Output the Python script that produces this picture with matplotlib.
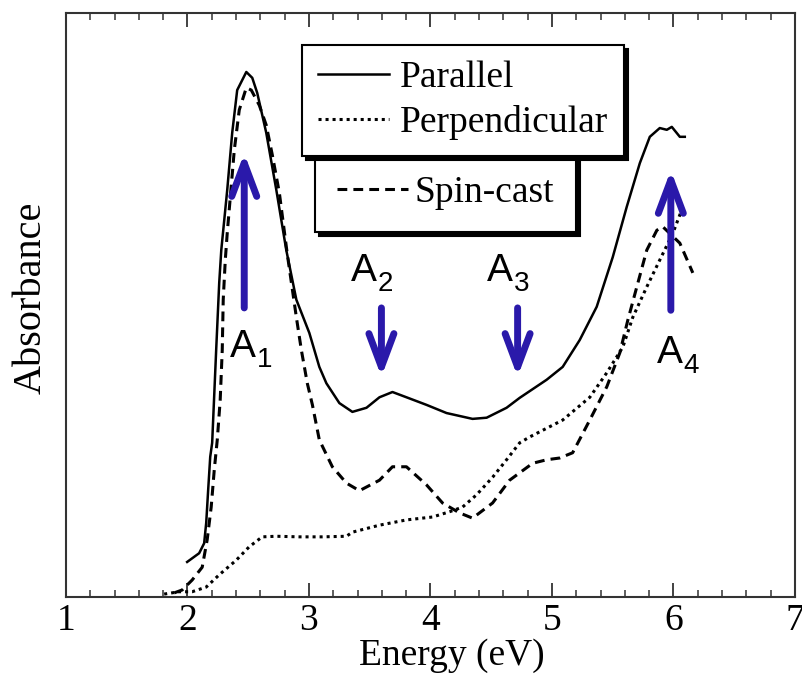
import matplotlib.pyplot as plt
import matplotlib.ticker as ticker

#%% Data (absorbance in arbitrary units)
par_e = [1.997, 2.096, 2.137, 2.154, 2.170, 2.187, 2.203, 2.236, 2.261, 2.278,
         2.327, 2.368, 2.409, 2.484, 2.533, 2.574, 2.648, 2.731, 2.813, 2.896,
         3.003, 3.085, 3.143, 3.250, 3.357, 3.473, 3.580, 3.687, 3.802, 3.967,
         4.132, 4.346, 4.462, 4.626, 4.734, 4.956, 5.088, 5.228, 5.368, 5.500,
         5.615, 5.723, 5.805, 5.887, 5.945, 5.986, 6.052, 6.093]
par_a = [0.060, 0.075, 0.092, 0.127, 0.183, 0.240, 0.264, 0.423, 0.538, 0.594,
         0.697, 0.795, 0.868, 0.899, 0.889, 0.863, 0.795, 0.697, 0.594, 0.509,
         0.452, 0.394, 0.366, 0.332, 0.317, 0.324, 0.342, 0.351, 0.342, 0.329,
         0.315, 0.305, 0.307, 0.324, 0.341, 0.372, 0.394, 0.440, 0.497, 0.582,
         0.668, 0.743, 0.788, 0.803, 0.800, 0.805, 0.788, 0.788]

perp_e = [1.808, 1.931, 2.038, 2.154, 2.261, 2.401, 2.508, 2.615, 2.731, 2.920,
          3.110, 3.308, 3.357, 3.580, 3.802, 4.017, 4.157, 4.264, 4.379, 4.511,
          4.626, 4.734, 4.816, 5.088, 5.311, 5.451, 5.583, 5.665, 5.780, 5.887,
          5.995, 6.077]
perp_a = [0.005, 0.009, 0.009, 0.017, 0.038, 0.063, 0.086, 0.103, 0.104, 0.103,
          0.103, 0.104, 0.111, 0.123, 0.132, 0.137, 0.146, 0.154, 0.175, 0.205,
          0.235, 0.264, 0.274, 0.303, 0.342, 0.384, 0.428, 0.479, 0.531, 0.577,
          0.623, 0.668]

spin_e = [1.890, 1.956, 2.038, 2.121, 2.162, 2.195, 2.220, 2.245, 2.269, 2.286,
          2.294, 2.311, 2.327, 2.385, 2.426, 2.484, 2.525, 2.591, 2.648, 2.698,
          2.756, 2.822, 2.896, 2.937, 2.986, 3.028, 3.085, 3.192, 3.308, 3.415,
          3.580, 3.687, 3.802, 3.967, 4.099, 4.239, 4.346, 4.511, 4.651, 4.841,
          4.956, 5.063, 5.170, 5.311, 5.451, 5.558, 5.624, 5.698, 5.780, 5.863,
          5.912, 6.052, 6.159]
spin_a = [0.007, 0.012, 0.029, 0.051, 0.098, 0.154, 0.217, 0.269, 0.337, 0.423,
          0.509, 0.577, 0.623, 0.765, 0.834, 0.872, 0.868, 0.842, 0.808, 0.757,
          0.692, 0.586, 0.479, 0.423, 0.366, 0.329, 0.269, 0.223, 0.195, 0.182,
          0.200, 0.223, 0.223, 0.192, 0.161, 0.144, 0.135, 0.161, 0.200, 0.229,
          0.235, 0.238, 0.247, 0.303, 0.360, 0.418, 0.474, 0.531, 0.594, 0.628,
          0.634, 0.606, 0.555]

# Peak markers A1..A4: energy, arrow tail and tip
peak_sub = ['1', '2', '3', '4']
peak_e = [2.467, 3.596, 4.717, 5.978]
arrow_tail = [0.495, 0.495, 0.495, 0.491]
arrow_tip = [0.760, 0.377, 0.377, 0.731]
label_e = [2.352, 3.349, 4.467, 5.863]
label_a = [0.411, 0.541, 0.541, 0.401]

#%% plot setup
plt.rcParams['font.family'] = 'Liberation Serif'

W, H = 803, 677
fig = plt.figure(figsize=(W / 100, H / 100), dpi=100)
ax = fig.add_axes([66 / W, 1 - 597 / H, 729 / W, 584 / H])

blue = '#2a19aa'

l_par, = ax.plot(par_e, par_a, color='black', lw=1.8, label='Parallel')
l_perp, = ax.plot(perp_e, perp_a, color='black', lw=2.2,
                  linestyle=(0, (1.0, 1.3)), label='Perpendicular')
l_spin, = ax.plot(spin_e, spin_a, color='black', lw=2.2,
                  linestyle=(0, (3.2, 2.0)), label='Spin-cast')

# arrows and labels
for e, y0, y1 in zip(peak_e, arrow_tail, arrow_tip):
    ax.annotate('', xy=(e, y1), xytext=(e, y0),
                arrowprops=dict(arrowstyle='->,head_length=0.8,head_width=0.3',
                                mutation_scale=30, lw=5, color=blue,
                                shrinkA=0, shrinkB=0))

for s, e, a in zip(peak_sub, label_e, label_a):
    ax.text(e, a, 'A', fontsize=28, family='Liberation Sans',
            ha='left', va='baseline')
    ax.annotate(s, xy=(e, a), xytext=(19, -7), textcoords='offset points',
                fontsize=20, family='Liberation Sans',
                ha='left', va='baseline')

# axes
ax.set_xlim(1, 7)
ax.set_ylim(0, 1)
ax.xaxis.set_major_locator(ticker.MultipleLocator(1))
ax.xaxis.set_minor_locator(ticker.MultipleLocator(0.2))
ax.tick_params(axis='x', which='both', direction='in', top=True,
               labelsize=27, pad=5, color='#333333')
ax.tick_params(axis='x', which='major', length=10, width=1.3)
ax.tick_params(axis='x', which='minor', length=5, width=1.1)
ax.set_yticks([])
for sp in ax.spines.values():
    sp.set_linewidth(1.5)
    sp.set_color('#333333')

ax.set_xlabel('Energy (eV)', fontsize=27)
ax.xaxis.set_label_coords(0.529, -0.070)
ax.set_ylabel('Absorbance', fontsize=29)
ax.yaxis.set_label_coords(-0.022, 0.512)

# legends
shadow = {'ox': 3, 'oy': -3, 'color': 'black', 'alpha': 1}
leg2 = ax.legend(handles=[l_spin], loc='lower left',
                 bbox_to_anchor=(315 / W, 1 - 232 / H),
                 bbox_transform=fig.transFigure, borderaxespad=0,
                 fontsize=27, frameon=True, fancybox=False, shadow=shadow,
                 handlelength=1.9, handletextpad=0.18, borderpad=0.58)
leg2.get_frame().set_edgecolor('black')
leg2.get_frame().set_linewidth(1.5)
leg2.set_zorder(5)
ax.add_artist(leg2)

leg1 = ax.legend(handles=[l_par, l_perp], loc='upper left',
                 bbox_to_anchor=(302 / W, 1 - 45 / H),
                 bbox_transform=fig.transFigure, borderaxespad=0,
                 fontsize=27, frameon=True, fancybox=False, shadow=shadow,
                 handlelength=1.9, handletextpad=0.28, borderpad=0.42,
                 labelspacing=0.27)
leg1.get_frame().set_edgecolor('black')
leg1.get_frame().set_linewidth(1.5)
leg1.set_zorder(6)

fig.savefig('out.png', dpi=100)
